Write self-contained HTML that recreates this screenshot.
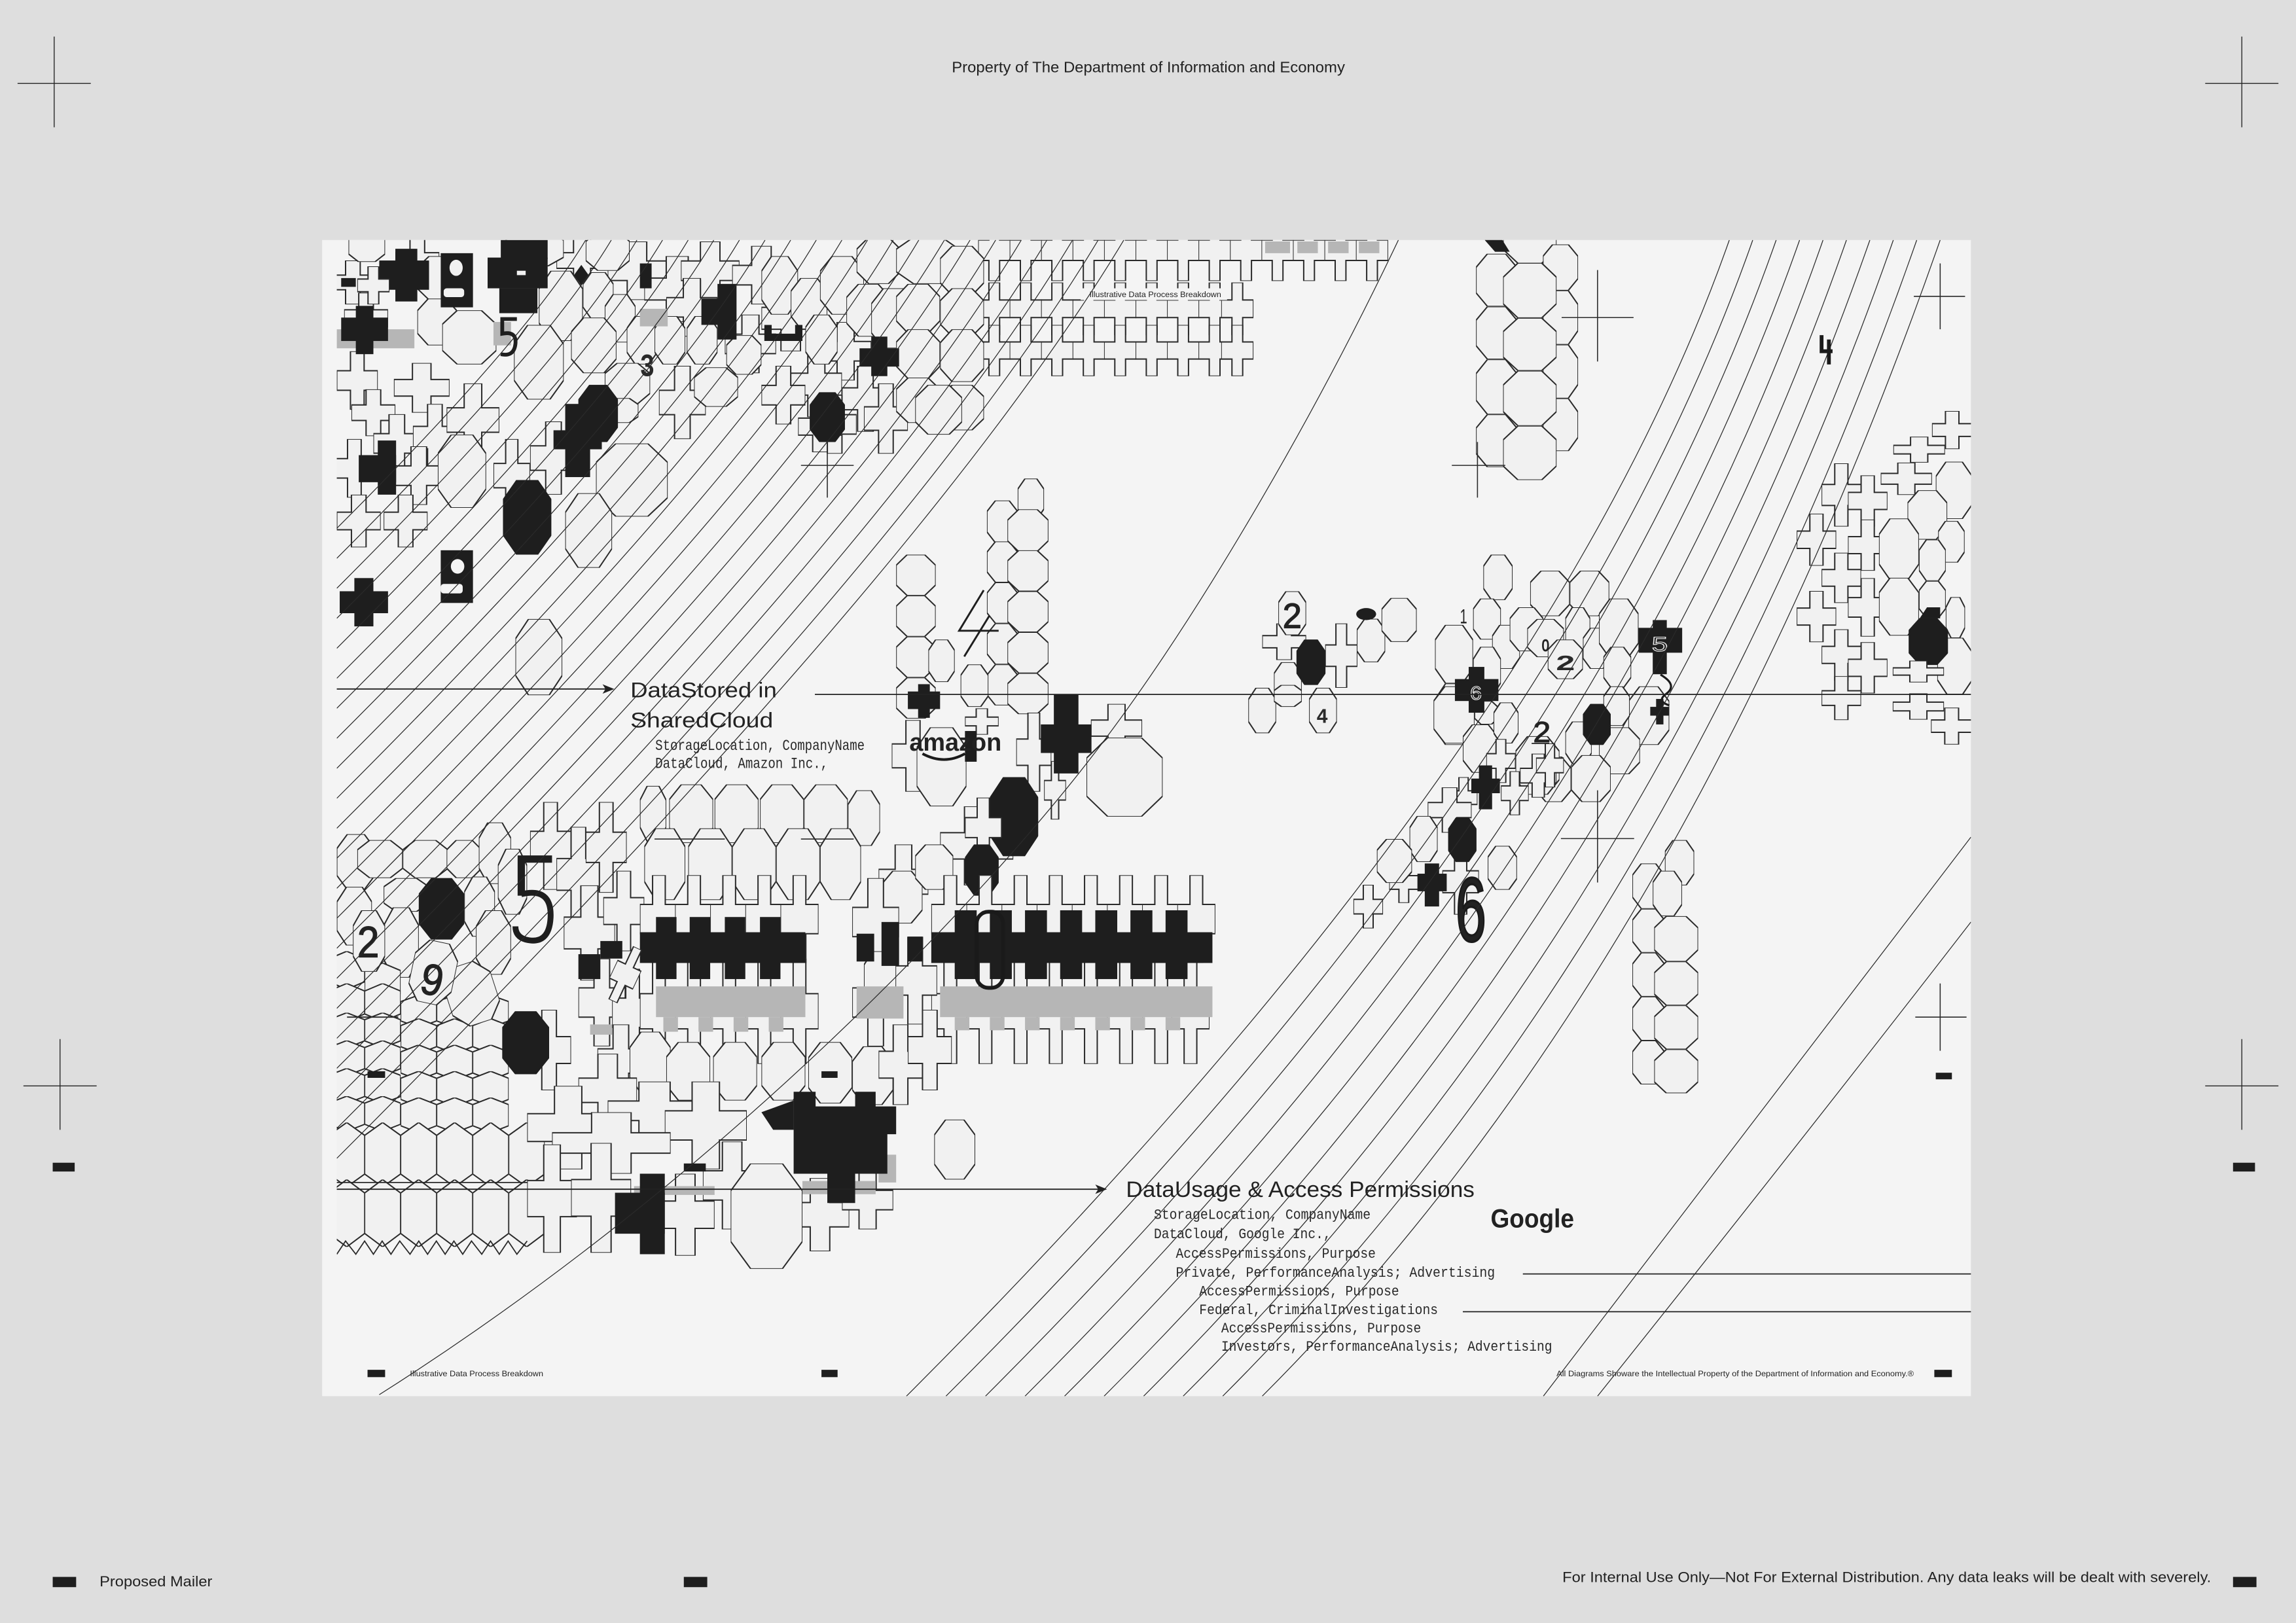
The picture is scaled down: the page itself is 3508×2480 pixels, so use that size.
<!DOCTYPE html>
<html><head><meta charset="utf-8"><title>Illustrative Data Process Breakdown</title>
<style>
html,body{margin:0;padding:0;background:#dedede;}
svg{display:block;}
use.w{fill:#f1f1f1;stroke:#2a2a2a;stroke-width:2;}
use.b{fill:#1e1e1e;stroke:#1e1e1e;stroke-width:1;}
.bk{fill:#1e1e1e;}
.gr{fill:#b6b6b6;}
.ln{fill:none;stroke:#2a2a2a;stroke-width:0.55;}
.t{font-family:"Liberation Sans",sans-serif;fill:#222;}
.m{font-family:"Liberation Mono",monospace;fill:#2a2a2a;}
</style></head>
<body>
<svg xmlns="http://www.w3.org/2000/svg" width="3508" height="2480" viewBox="0 0 1568 1109" preserveAspectRatio="none">
<defs>
<symbol id="o" viewBox="0 0 10 10" preserveAspectRatio="none"><polygon points="2.8,0 7.2,0 10,2.6 10,7.4 7.2,10 2.8,10 0,7.4 0,2.6" vector-effect="non-scaling-stroke"/></symbol>
<symbol id="c" viewBox="0 0 12 12" preserveAspectRatio="none"><polygon points="4,0 8,0 8,4 12,4 12,8 8,8 8,12 4,12 4,8 0,8 0,4 4,4" vector-effect="non-scaling-stroke"/></symbol>
<symbol id="h" viewBox="0 0 10 10" preserveAspectRatio="none"><polygon points="0,2 5,0 10,2 10,8 5,10 0,8" vector-effect="non-scaling-stroke"/></symbol>
<clipPath id="cp"><rect x="230" y="164" width="1116" height="790"/></clipPath>
</defs>

<rect x="0" y="0" width="1568" height="1109" fill="#dedede"/>
<rect x="220" y="164" width="1126" height="790" fill="#f4f4f4"/>

<g clip-path="url(#cp)">
<!-- ============ TOP BATTLEMENT PATTERN ============ -->
<use href="#c" class="w" x="668" y="150" width="22" height="42"/>
<use href="#c" class="w" x="689.5" y="150" width="22" height="42"/>
<use href="#c" class="w" x="711" y="150" width="22" height="42"/>
<use href="#c" class="w" x="732.5" y="150" width="22" height="42"/>
<use href="#c" class="w" x="754" y="150" width="22" height="42"/>
<use href="#c" class="w" x="775.5" y="150" width="22" height="42"/>
<use href="#c" class="w" x="797" y="150" width="22" height="42"/>
<use href="#c" class="w" x="818.5" y="150" width="22" height="42"/>
<use href="#c" class="w" x="840" y="150" width="22" height="42"/>
<use href="#c" class="w" x="861.5" y="150" width="22" height="42"/>
<use href="#c" class="w" x="883" y="150" width="22" height="42"/>
<use href="#c" class="w" x="904.5" y="150" width="22" height="42"/>
<use href="#c" class="w" x="926" y="150" width="22" height="42"/>
<rect class="gr" x="864" y="165" width="17" height="8"/>
<rect class="gr" x="886" y="165" width="14" height="8"/>
<rect class="gr" x="907" y="165" width="14" height="8"/>
<rect class="gr" x="928" y="165" width="14" height="8"/>
<use href="#c" class="w" x="668" y="193" width="22" height="36"/>
<use href="#c" class="w" x="689.5" y="193" width="22" height="36"/>
<use href="#c" class="w" x="711" y="193" width="22" height="36"/>
<use href="#c" class="w" x="732.5" y="193" width="22" height="36"/>
<use href="#c" class="w" x="754" y="193" width="22" height="36"/>
<use href="#c" class="w" x="775.5" y="193" width="22" height="36"/>
<use href="#c" class="w" x="797" y="193" width="22" height="36"/>
<use href="#c" class="w" x="818.5" y="193" width="22" height="36"/>
<use href="#c" class="w" x="834" y="193" width="22" height="36"/>
<use href="#c" class="w" x="668" y="222" width="22" height="35"/>
<use href="#c" class="w" x="689.5" y="222" width="22" height="35"/>
<use href="#c" class="w" x="711" y="222" width="22" height="35"/>
<use href="#c" class="w" x="732.5" y="222" width="22" height="35"/>
<use href="#c" class="w" x="754" y="222" width="22" height="35"/>
<use href="#c" class="w" x="775.5" y="222" width="22" height="35"/>
<use href="#c" class="w" x="797" y="222" width="22" height="35"/>
<use href="#c" class="w" x="818.5" y="222" width="22" height="35"/>
<use href="#c" class="w" x="834" y="222" width="22" height="35"/>
<rect x="738" y="197" width="100" height="8" fill="#f4f4f4"/>

<!-- ============ TOP-LEFT CLUSTER ============ -->
<use href="#c" class="w" x="226" y="178" width="30" height="30"/>
<use href="#c" class="w" x="235" y="200" width="30" height="35"/>
<use href="#c" class="w" x="230" y="240" width="28" height="40"/>
<use href="#c" class="w" x="240" y="266" width="30" height="32"/>
<use href="#c" class="w" x="269" y="248" width="38" height="34"/>
<use href="#c" class="w" x="255" y="283" width="32" height="40"/>
<use href="#c" class="w" x="282" y="276" width="30" height="46"/>
<use href="#c" class="w" x="305" y="262" width="36" height="50"/>
<use href="#c" class="w" x="228" y="300" width="28" height="40"/>
<use href="#c" class="w" x="270" y="305" width="32" height="40"/>
<use href="#c" class="w" x="230" y="338" width="30" height="36"/>
<use href="#c" class="w" x="262" y="338" width="30" height="36"/>
<use href="#c" class="w" x="337" y="300" width="25" height="50"/>
<use href="#c" class="w" x="362" y="288" width="32" height="50"/>
<use href="#c" class="w" x="270" y="162" width="30" height="32"/>
<use href="#c" class="w" x="380" y="162" width="35" height="32"/>
<use href="#c" class="w" x="415" y="165" width="40" height="40"/>
<use href="#c" class="w" x="440" y="175" width="45" height="45"/>
<use href="#c" class="w" x="465" y="165" width="40" height="40"/>
<use href="#c" class="w" x="500" y="168" width="40" height="40"/>
<use href="#c" class="w" x="455" y="190" width="35" height="40"/>
<use href="#c" class="w" x="520" y="195" width="40" height="45"/>
<use href="#c" class="w" x="495" y="215" width="35" height="40"/>
<use href="#c" class="w" x="560" y="220" width="35" height="40"/>
<use href="#c" class="w" x="540" y="240" width="35" height="45"/>
<use href="#c" class="w" x="575" y="250" width="32" height="45"/>
<use href="#c" class="w" x="590" y="262" width="30" height="48"/>
<use href="#c" class="w" x="555" y="270" width="30" height="40"/>
<use href="#c" class="w" x="545" y="274" width="30" height="35"/>
<use href="#c" class="w" x="450" y="250" width="32" height="50"/>
<use href="#c" class="w" x="520" y="250" width="30" height="40"/>

<use href="#o" class="w" x="238" y="158" width="25" height="21"/>
<use href="#o" class="w" x="345" y="158" width="40" height="24"/>
<use href="#o" class="w" x="400" y="158" width="30" height="27"/>
<use href="#o" class="w" x="285" y="175" width="29" height="30"/>
<use href="#o" class="w" x="285" y="204" width="27" height="32"/>
<use href="#o" class="w" x="302" y="212" width="37" height="37"/>
<use href="#o" class="w" x="368" y="185" width="30" height="48"/>
<use href="#o" class="w" x="351" y="222" width="34" height="51"/>
<use href="#o" class="w" x="398" y="186" width="21" height="32"/>
<use href="#o" class="w" x="413" y="201" width="21" height="33"/>
<use href="#o" class="w" x="390" y="217" width="31" height="38"/>
<use href="#o" class="w" x="428" y="216" width="21" height="33"/>
<use href="#o" class="w" x="447" y="216" width="21" height="33"/>
<use href="#o" class="w" x="469" y="216" width="21" height="33"/>
<use href="#o" class="w" x="520" y="175" width="25" height="40"/>
<use href="#o" class="w" x="540" y="190" width="25" height="35"/>
<use href="#o" class="w" x="496" y="229" width="24" height="27"/>
<use href="#o" class="w" x="413" y="248" width="31" height="28"/>
<use href="#o" class="w" x="413" y="272" width="23" height="17"/>
<use href="#o" class="w" x="474" y="251" width="30" height="27"/>
<use href="#o" class="w" x="299" y="297" width="33" height="50"/>
<use href="#o" class="w" x="407" y="303" width="49" height="50"/>
<use href="#o" class="w" x="386" y="337" width="32" height="51"/>
<use href="#o" class="w" x="352" y="423" width="32" height="52"/>
<use href="#o" class="w" x="560" y="175" width="30" height="40"/>
<use href="#o" class="w" x="585" y="162" width="30" height="32"/>
<use href="#o" class="w" x="550" y="215" width="22" height="34"/>
<use href="#o" class="w" x="578" y="194" width="30" height="36"/>
<use href="#o" class="w" x="595" y="197" width="30" height="41"/>
<use href="#o" class="w" x="612" y="162" width="43" height="32"/>
<use href="#o" class="w" x="642" y="168" width="30" height="34"/>
<use href="#o" class="w" x="612" y="194" width="30" height="34"/>
<use href="#o" class="w" x="642" y="197" width="30" height="33"/>
<use href="#o" class="w" x="612" y="225" width="30" height="34"/>
<use href="#o" class="w" x="642" y="225" width="30" height="36"/>
<use href="#o" class="w" x="612" y="258" width="30" height="31"/>
<use href="#o" class="w" x="642" y="263" width="30" height="31"/>
<use href="#o" class="w" x="625" y="263" width="32" height="34"/>

<!-- TL gray -->
<rect class="gr" x="230" y="225" width="53" height="13"/>
<rect class="gr" x="437" y="211" width="19" height="12"/>
<rect class="gr" x="337" y="220" width="12" height="16"/>
<!-- TL black -->
<rect class="bk" x="270" y="170" width="15" height="36"/>
<rect class="bk" x="259" y="178" width="34" height="20"/>
<rect class="bk" x="233" y="190" width="10" height="6"/>
<use href="#c" class="w" x="244" y="182" width="22" height="26"/>
<rect class="bk" x="243" y="209" width="12" height="33"/>
<rect class="bk" x="233" y="217" width="32" height="16"/>
<rect class="bk" x="301" y="173" width="22" height="37"/>
<ellipse cx="311.5" cy="183" rx="4.5" ry="5.5" fill="#f1f1f1"/>
<rect x="303" y="197" width="14" height="6" rx="2" fill="#f1f1f1"/>
<rect class="bk" x="342" y="164" width="32" height="13"/>
<rect class="bk" x="333" y="176" width="41" height="21"/>
<rect class="bk" x="341" y="197" width="26" height="17"/>
<rect x="353" y="185" width="6" height="3" fill="#f1f1f1"/>
<polygon class="bk" points="397,181 402,188 397,195 392,188"/>
<path d="M353,218 H343 V228 Q353,226 352,235 Q351,244 342,242" fill="none" stroke="#1e1e1e" stroke-width="2.6"/>
<use href="#o" class="b" x="395" y="263" width="27" height="39"/>
<rect class="bk" x="386" y="276" width="17" height="50"/>
<rect class="bk" x="378" y="294" width="33" height="13"/>
<use href="#o" class="b" x="343.5" y="328" width="33" height="51"/>
<rect class="bk" x="258" y="301" width="12.5" height="37"/>
<rect class="bk" x="245" y="311" width="25.5" height="18.5"/>
<use href="#o" class="b" x="553" y="268" width="24" height="34"/>
<rect class="bk" x="301" y="376" width="22" height="36"/>
<ellipse cx="312.5" cy="387" rx="4.6" ry="5" fill="#f4f4f4"/>
<rect x="301" y="399" width="15" height="6.5" rx="2" fill="#f4f4f4"/>
<rect class="bk" x="242" y="395" width="13" height="33"/>
<rect class="bk" x="232" y="404" width="33" height="15"/>
<rect class="bk" x="490" y="194" width="13" height="38"/>
<rect class="bk" x="479" y="204" width="21" height="18"/>
<rect class="bk" x="437" y="180" width="8" height="17"/>
<path class="bk" d="M522,222 h5 v6 h16 v-6 h5 v11 h-26z"/>
<rect class="bk" x="595" y="230" width="11" height="27"/>
<rect class="bk" x="587" y="238" width="27" height="12.5"/>
<polygon class="bk" points="1014,164 1026,164 1031,172 1021,172"/>
<text x="437" y="257" class="m" font-size="22" font-weight="bold" textLength="10" lengthAdjust="spacingAndGlyphs">3</text>

<!-- ============ MID COLUMN / AMAZON ============ -->
<use href="#o" class="w" x="695" y="327" width="18" height="28"/>
<use href="#o" class="w" x="674" y="342" width="21" height="29"/>
<use href="#o" class="w" x="674" y="370" width="21" height="28"/>
<use href="#o" class="w" x="674" y="398" width="21" height="28"/>
<use href="#o" class="w" x="674" y="426" width="21" height="28"/>
<use href="#o" class="w" x="674" y="454" width="21" height="28"/>
<use href="#o" class="w" x="688" y="348" width="28" height="29"/>
<use href="#o" class="w" x="688" y="376" width="28" height="28"/>
<use href="#o" class="w" x="688" y="404" width="28" height="28"/>
<use href="#o" class="w" x="688" y="432" width="28" height="28"/>
<use href="#o" class="w" x="688" y="460" width="28" height="28"/>
<use href="#o" class="w" x="612" y="379" width="27" height="28"/>
<use href="#o" class="w" x="612" y="407" width="27" height="28"/>
<use href="#o" class="w" x="612" y="435" width="27" height="28"/>
<use href="#o" class="w" x="612" y="463" width="27" height="28"/>
<use href="#o" class="w" x="634" y="437" width="18" height="29"/>
<use href="#o" class="w" x="656" y="454" width="19" height="29"/>
<path d="M671.8,403.3 L655,431 L682,431 M675.7,420.7 L658.5,448.6" fill="none" stroke="#1e1e1e" stroke-width="1.3"/>

<use href="#c" class="w" x="609" y="492" width="29" height="49"/>
<use href="#c" class="w" x="659" y="484" width="23" height="18"/>
<use href="#c" class="w" x="694" y="487" width="24" height="54"/>
<use href="#c" class="w" x="713" y="520" width="15" height="40"/>
<use href="#c" class="w" x="745" y="481" width="35" height="33"/>
<use href="#c" class="w" x="642" y="551" width="50" height="54"/>
<use href="#c" class="w" x="600" y="577" width="34" height="51"/>
<use href="#o" class="w" x="602" y="595" width="28" height="36"/>
<use href="#o" class="w" x="625" y="577" width="26" height="31"/>
<use href="#o" class="w" x="626" y="497" width="34" height="54"/>
<use href="#o" class="w" x="742" y="504" width="52" height="54"/>
<rect class="bk" x="627" y="467.5" width="8" height="23"/>
<rect class="bk" x="620" y="472.5" width="22" height="12"/>
<rect class="bk" x="719.7" y="474.5" width="16.8" height="54"/>
<rect class="bk" x="710.8" y="495" width="34.6" height="19.5"/>
<use href="#o" class="b" x="676" y="531" width="33" height="54"/>
<use href="#c" class="w" x="659" y="545" width="25" height="41"/>
<use href="#o" class="b" x="659" y="577" width="23" height="35"/>
<rect class="bk" x="659" y="499.5" width="8" height="21"/>
<text x="621" y="513" class="t" font-size="17" font-weight="bold" textLength="63" lengthAdjust="spacingAndGlyphs" fill="#1a1a1a">amazon</text>
<path d="M630,515 Q645,523 659,515" fill="none" stroke="#1a1a1a" stroke-width="1.8"/>

<!-- ============ LOWER-LEFT GRID ============ -->
<use href="#o" class="w" x="230" y="570" width="26" height="38"/>
<use href="#o" class="w" x="244" y="574" width="31" height="26"/>
<use href="#o" class="w" x="275" y="574" width="31" height="26"/>
<use href="#o" class="w" x="305" y="574" width="24" height="26"/>
<use href="#o" class="w" x="327" y="562" width="22" height="42"/>
<use href="#o" class="w" x="262" y="600" width="31" height="23"/>
<use href="#o" class="w" x="230" y="606" width="24" height="40"/>
<use href="#o" class="w" x="317" y="599" width="21" height="41"/>
<use href="#o" class="w" x="325" y="622" width="24" height="44"/>
<use href="#o" class="w" x="262" y="620" width="24" height="48"/>
<use href="#h" class="w" x="224.5" y="650" width="24.6" height="26"/>
<use href="#h" class="w" x="249" y="658" width="24.6" height="26"/>
<g>
<use href="#h" class="w" x="224.5" y="672" width="24.6" height="26"/>
<use href="#h" class="w" x="249" y="672" width="24.6" height="26"/>
<use href="#h" class="w" x="273.6" y="680" width="24.6" height="22"/>
<use href="#h" class="w" x="298.2" y="680" width="24.6" height="22"/>
<use href="#h" class="w" x="322.8" y="680" width="24.6" height="22"/>
<use href="#h" class="w" x="224.5" y="692" width="24.6" height="24"/>
<use href="#h" class="w" x="249" y="692" width="24.6" height="24"/>
<use href="#h" class="w" x="273.6" y="696" width="24.6" height="24"/>
<use href="#h" class="w" x="298.2" y="696" width="24.6" height="24"/>
<use href="#h" class="w" x="322.8" y="696" width="24.6" height="24"/>
<use href="#h" class="w" x="224.5" y="711" width="24.6" height="24"/>
<use href="#h" class="w" x="249" y="711" width="24.6" height="24"/>
<use href="#h" class="w" x="273.6" y="714" width="24.6" height="24"/>
<use href="#h" class="w" x="298.2" y="714" width="24.6" height="24"/>
<use href="#h" class="w" x="322.8" y="714" width="24.6" height="24"/>
<use href="#h" class="w" x="224.5" y="730" width="24.6" height="24"/>
<use href="#h" class="w" x="249" y="730" width="24.6" height="24"/>
<use href="#h" class="w" x="273.6" y="732" width="24.6" height="24"/>
<use href="#h" class="w" x="298.2" y="732" width="24.6" height="24"/>
<use href="#h" class="w" x="322.8" y="732" width="24.6" height="24"/>
<use href="#h" class="w" x="224.5" y="749" width="24.6" height="24"/>
<use href="#h" class="w" x="249" y="749" width="24.6" height="24"/>
<use href="#h" class="w" x="273.6" y="750" width="24.6" height="24"/>
<use href="#h" class="w" x="298.2" y="750" width="24.6" height="24"/>
<use href="#h" class="w" x="322.8" y="750" width="24.6" height="24"/>
<use href="#h" class="w" x="224.5" y="767" width="24.6" height="44"/>
<use href="#h" class="w" x="249" y="767" width="24.6" height="44"/>
<use href="#h" class="w" x="273.6" y="767" width="24.6" height="44"/>
<use href="#h" class="w" x="298.2" y="767" width="24.6" height="44"/>
<use href="#h" class="w" x="322.8" y="767" width="24.6" height="44"/>
<use href="#h" class="w" x="347.4" y="767" width="24.6" height="44"/>
<use href="#h" class="w" x="224.5" y="806" width="24.6" height="46"/>
<use href="#h" class="w" x="249" y="806" width="24.6" height="46"/>
<use href="#h" class="w" x="273.6" y="806" width="24.6" height="46"/>
<use href="#h" class="w" x="298.2" y="806" width="24.6" height="46"/>
<use href="#h" class="w" x="322.8" y="806" width="24.6" height="46"/>
<use href="#h" class="w" x="347.4" y="806" width="24.6" height="46"/>
</g>
<path d="M230,857 L236,848 L243,857 L249,848 L255,857 L261,848 L267,857 L273,848 L280,857 L286,848 L292,857 L298,848 L304,857 L310,848 L316,857 L322,848 L329,857 L335,848 L341,857 L347,848 L353,857 L360,848" fill="none" stroke="#2a2a2a" stroke-width="0.8"/>
<line x1="230" y1="808" x2="362" y2="808" stroke="#2a2a2a" stroke-width="0.8"/>
<line x1="237" y1="695" x2="272" y2="695" stroke="#2a2a2a" stroke-width="0.8"/>

<use href="#o" class="b" x="286" y="600" width="31" height="42"/>
<use href="#o" class="w" x="241" y="622" width="22" height="42"/>
<text x="244" y="654" class="t" font-size="30" textLength="15" lengthAdjust="spacingAndGlyphs" fill="none" stroke="#222" stroke-width="0.6">2</text>
<use href="#o" class="w" x="305" y="658" width="34" height="42" transform="rotate(-18 322 679)"/>
<use href="#o" class="w" x="281" y="643" width="30" height="43" transform="rotate(12 296 664)"/>
<text x="288" y="680" class="t" font-size="30" textLength="15" lengthAdjust="spacingAndGlyphs" fill="none" stroke="#222" stroke-width="0.6" transform="rotate(12 296 668)">9</text>
<rect class="bk" x="251" y="732" width="12" height="4.5"/>

<!-- ============ LOWER-MIDDLE ============ -->
<use href="#o" class="w" x="437" y="537" width="18" height="38"/>
<use href="#o" class="w" x="457" y="536" width="30" height="40"/>
<use href="#o" class="w" x="488" y="536" width="30" height="40"/>
<use href="#o" class="w" x="519" y="536" width="30" height="40"/>
<use href="#o" class="w" x="549" y="536" width="30" height="40"/>
<use href="#o" class="w" x="579" y="540" width="22" height="38"/>
<use href="#o" class="w" x="440" y="566" width="28" height="49"/>
<use href="#o" class="w" x="470" y="566" width="30" height="49"/>
<use href="#o" class="w" x="500" y="566" width="30" height="49"/>
<use href="#o" class="w" x="530" y="566" width="30" height="49"/>
<use href="#o" class="w" x="560" y="566" width="28" height="49"/>
<line x1="447" y1="573.3" x2="495" y2="573.3" stroke="#2a2a2a" stroke-width="0.7"/>
<line x1="547" y1="573.3" x2="583" y2="573.3" stroke="#2a2a2a" stroke-width="0.7"/>

<use href="#c" class="w" x="362" y="548" width="28" height="60"/>
<use href="#c" class="w" x="380" y="565" width="30" height="65"/>
<use href="#c" class="w" x="400" y="548" width="28" height="62"/>
<use href="#o" class="w" x="340" y="580" width="20" height="45"/>
<use href="#c" class="w" x="385" y="605" width="35" height="65"/>
<use href="#c" class="w" x="412" y="595" width="28" height="55"/>
<use href="#c" class="w" x="395" y="655" width="32" height="60"/>
<use href="#c" class="w" x="418" y="662" width="28" height="60"/>
<use href="#c" class="w" x="360" y="690" width="30" height="55"/>
<use href="#c" class="w" x="408" y="700" width="32" height="50"/>
<use href="#o" class="b" x="343" y="691" width="32" height="43"/>

<!-- crosses around bars -->
<use href="#c" class="w" x="437" y="598" width="26" height="60"/>
<use href="#c" class="w" x="461" y="598" width="26" height="60"/>
<use href="#c" class="w" x="485" y="598" width="26" height="60"/>
<use href="#c" class="w" x="509" y="598" width="26" height="60"/>
<use href="#c" class="w" x="533" y="598" width="26" height="60"/>
<use href="#c" class="w" x="437" y="655" width="26" height="72"/>
<use href="#c" class="w" x="461" y="655" width="26" height="72"/>
<use href="#c" class="w" x="485" y="655" width="26" height="72"/>
<use href="#c" class="w" x="509" y="655" width="26" height="72"/>
<use href="#c" class="w" x="533" y="655" width="26" height="72"/>
<use href="#c" class="w" x="636" y="598" width="26" height="60"/>
<use href="#c" class="w" x="660" y="598" width="26" height="60"/>
<use href="#c" class="w" x="684" y="598" width="26" height="60"/>
<use href="#c" class="w" x="708" y="598" width="26" height="60"/>
<use href="#c" class="w" x="732" y="598" width="26" height="60"/>
<use href="#c" class="w" x="756" y="598" width="26" height="60"/>
<use href="#c" class="w" x="780" y="598" width="26" height="60"/>
<use href="#c" class="w" x="804" y="598" width="26" height="60"/>
<use href="#c" class="w" x="636" y="655" width="26" height="72"/>
<use href="#c" class="w" x="660" y="655" width="26" height="72"/>
<use href="#c" class="w" x="684" y="655" width="26" height="72"/>
<use href="#c" class="w" x="708" y="655" width="26" height="72"/>
<use href="#c" class="w" x="732" y="655" width="26" height="72"/>
<use href="#c" class="w" x="756" y="655" width="26" height="72"/>
<use href="#c" class="w" x="780" y="655" width="26" height="72"/>
<use href="#c" class="w" x="800" y="655" width="26" height="72"/>
<use href="#c" class="w" x="582" y="600" width="32" height="60"/>
<use href="#c" class="w" x="582" y="655" width="32" height="60"/>
<use href="#c" class="w" x="610" y="640" width="30" height="60"/>
<use href="#o" class="w" x="590" y="650" width="22" height="36"/>

<!-- gray bands -->
<rect class="gr" x="448" y="674" width="102" height="21"/>
<rect class="gr" x="453" y="695" width="10" height="10"/>
<rect class="gr" x="477" y="695" width="10" height="10"/>
<rect class="gr" x="501" y="695" width="10" height="10"/>
<rect class="gr" x="525" y="695" width="10" height="10"/>
<rect class="gr" x="403" y="700" width="15" height="7"/>
<rect class="gr" x="642" y="674" width="186" height="21"/>
<rect class="gr" x="652" y="695" width="10" height="9"/>
<rect class="gr" x="676" y="695" width="10" height="9"/>
<rect class="gr" x="700" y="695" width="10" height="9"/>
<rect class="gr" x="724" y="695" width="10" height="9"/>
<rect class="gr" x="748" y="695" width="10" height="9"/>
<rect class="gr" x="772" y="695" width="10" height="9"/>
<rect class="gr" x="796" y="695" width="10" height="9"/>
<rect class="gr" x="585" y="674" width="32" height="22"/>

<!-- black bars -->
<rect class="bk" x="437" y="637" width="113" height="21"/>
<rect class="bk" x="448" y="626.6" width="14" height="42.4"/>
<rect class="bk" x="471" y="626.6" width="14" height="42.4"/>
<rect class="bk" x="495" y="626.6" width="14" height="42.4"/>
<rect class="bk" x="519" y="626.6" width="14" height="42.4"/>
<rect class="bk" x="395" y="652" width="15" height="17"/>
<rect class="bk" x="410" y="643" width="15" height="12"/>
<rect class="bk" x="636" y="637" width="192" height="21"/>
<rect class="bk" x="652" y="622" width="15" height="47"/>
<rect class="bk" x="676" y="622" width="15" height="47"/>
<rect class="bk" x="700" y="622" width="15" height="47"/>
<rect class="bk" x="724" y="622" width="15" height="47"/>
<rect class="bk" x="748" y="622" width="15" height="47"/>
<rect class="bk" x="772" y="622" width="15" height="47"/>
<rect class="bk" x="796" y="622" width="15" height="47"/>
<rect class="bk" x="585" y="638" width="12" height="19"/>
<rect class="bk" x="602" y="630" width="12" height="30"/>
<rect class="bk" x="620" y="640" width="10" height="17"/>
<rect x="667" y="623" width="18" height="52" rx="8" fill="none" stroke="#1a1a1a" stroke-width="2.6"/>
<use href="#c" class="w" x="418" y="646" width="18" height="40" transform="rotate(25 427 666)"/>

<!-- mid rows of tall octagons -->
<use href="#o" class="w" x="430" y="705" width="28" height="42"/>
<use href="#o" class="w" x="455" y="712" width="30" height="40"/>
<use href="#o" class="w" x="487" y="712" width="30" height="40"/>
<use href="#o" class="w" x="520" y="712" width="30" height="40"/>
<use href="#o" class="w" x="552" y="712" width="30" height="42"/>
<use href="#o" class="w" x="582" y="715" width="28" height="40"/>
<use href="#c" class="w" x="600" y="700" width="30" height="55"/>
<use href="#c" class="w" x="620" y="690" width="30" height="55"/>

<!-- bottom crosses -->
<use href="#c" class="w" x="395" y="720" width="40" height="50"/>
<use href="#c" class="w" x="360" y="742" width="56" height="57"/>
<use href="#c" class="w" x="415" y="739" width="64" height="40"/>
<use href="#c" class="w" x="454" y="739" width="56" height="60"/>
<use href="#c" class="w" x="377" y="760" width="81" height="42"/>
<use href="#c" class="w" x="360" y="782" width="34" height="74"/>
<use href="#c" class="w" x="390" y="781" width="41" height="75"/>
<use href="#c" class="w" x="480" y="780" width="40" height="60"/>
<use href="#c" class="w" x="448" y="802" width="40" height="56"/>
<use href="#c" class="w" x="540" y="805" width="40" height="50"/>
<use href="#c" class="w" x="575" y="800" width="35" height="40"/>
<rect class="gr" x="433" y="810.5" width="55" height="6"/>
<rect class="bk" x="437" y="802" width="17" height="55"/>
<rect class="bk" x="420" y="815" width="34" height="28"/>
<use href="#o" class="w" x="499" y="795" width="49" height="72"/>
<rect class="gr" x="600" y="789" width="12" height="19"/>
<rect class="gr" x="548" y="807" width="50" height="9"/>
<polygon class="bk" points="520,760 542,752 542,772 528,772"/>
<path class="bk" d="M542,756 V746 H557 V756 H584 V746 H598 V756 H612 V775 H606 V802 H584 V822 H565 V802 H542 Z"/>
<use href="#o" class="w" x="638" y="765" width="28" height="41"/>
<rect class="bk" x="467" y="795" width="15" height="5.5"/>
<rect class="bk" x="561" y="732" width="11" height="4.5"/>

<!-- "5" glyph -->
<path d="M377,587 H356 V612" fill="none" stroke="#1e1e1e" stroke-width="5"/>
<path d="M356,611 Q377,606 376,627 Q375,646 359,642 Q352,640 352,633" fill="none" stroke="#1e1e1e" stroke-width="4"/>

<!-- ============ RIGHT-MIDDLE CLUSTER ============ -->
<use href="#o" class="w" x="1013" y="379" width="20" height="31"/>
<use href="#o" class="w" x="1045" y="390" width="27" height="31"/>
<use href="#o" class="w" x="1072" y="390" width="27" height="31"/>
<use href="#o" class="w" x="980" y="427" width="26" height="40"/>
<use href="#o" class="w" x="980" y="467" width="26" height="42"/>
<use href="#o" class="w" x="1006" y="409" width="19" height="28"/>
<use href="#o" class="w" x="1019" y="427" width="19" height="30"/>
<use href="#o" class="w" x="1006" y="442" width="19" height="33"/>
<use href="#o" class="w" x="1031" y="415" width="23" height="30"/>
<use href="#o" class="w" x="1069" y="415" width="17" height="30"/>
<use href="#o" class="w" x="1081" y="429" width="19" height="28"/>
<use href="#o" class="w" x="1092" y="409" width="27" height="41"/>
<use href="#o" class="w" x="1095" y="442" width="19" height="28"/>
<use href="#o" class="w" x="1112" y="469" width="28" height="40"/>
<use href="#o" class="w" x="1095" y="469" width="18" height="27"/>
<use href="#o" class="w" x="1092" y="497" width="28" height="32"/>
<use href="#o" class="w" x="1069" y="493" width="18" height="29"/>
<use href="#o" class="w" x="1073" y="516" width="27" height="32"/>
<use href="#o" class="w" x="1049" y="517" width="24" height="31"/>
<use href="#o" class="w" x="979" y="469" width="28" height="39"/>
<use href="#o" class="w" x="999" y="495" width="24" height="33"/>
<use href="#o" class="w" x="1007" y="479" width="16" height="16"/>
<use href="#o" class="w" x="1020" y="480" width="17" height="28"/>
<use href="#o" class="w" x="1043" y="423" width="25" height="26"/>
<use href="#o" class="w" x="1057" y="437" width="24" height="27"/>
<use href="#o" class="w" x="1035" y="503" width="30" height="40"/>
<use href="#c" class="w" x="1038" y="515" width="25" height="30"/>
<use href="#c" class="w" x="1049" y="508" width="19" height="30"/>
<use href="#c" class="w" x="1025" y="527" width="19" height="30"/>
<use href="#c" class="w" x="990" y="531" width="19" height="28"/>
<use href="#c" class="w" x="975" y="538" width="30" height="31"/>
<use href="#c" class="w" x="1015" y="505" width="20" height="30"/>
<text x="1053" y="445" class="t" font-size="11" textLength="5" lengthAdjust="spacingAndGlyphs" fill="none" stroke="#222" stroke-width="0.5">0</text>
<text x="1062" y="458" class="m" font-size="15" font-weight="bold" textLength="14" lengthAdjust="spacingAndGlyphs" fill="#1a1a1a">2</text>
<text x="997" y="426" class="t" font-size="14" textLength="5" lengthAdjust="spacingAndGlyphs">1</text>
<use href="#o" class="b" x="1081" y="481" width="19" height="28"/>
<rect class="bk" x="1003" y="455.7" width="10.7" height="31.3"/>
<rect class="bk" x="993.6" y="464" width="29.7" height="15"/>
<text x="1004" y="478" class="t" font-size="13" textLength="8" lengthAdjust="spacingAndGlyphs" fill="none" stroke="#eee" stroke-width="0.5">6</text>
<rect class="bk" x="1128.7" y="423.7" width="9.6" height="37"/>
<rect class="bk" x="1119" y="429" width="29.8" height="17"/>
<text x="1128" y="445" class="t" font-size="14" textLength="11" lengthAdjust="spacingAndGlyphs" fill="none" stroke="#eee" stroke-width="0.5">5</text>
<path d="M1134,461 Q1146,468 1138,474 Q1131,479 1140,482" fill="none" stroke="#1a1a1a" stroke-width="1.4"/>
<rect class="bk" x="1131" y="477.6" width="5" height="17.4"/>
<rect class="bk" x="1127" y="483" width="13" height="6"/>
<text x="1047" y="507" class="t" font-size="20" textLength="12" lengthAdjust="spacingAndGlyphs" fill="none" stroke="#222" stroke-width="0.5">2</text>
<line x1="1046" y1="508" x2="1058" y2="508" stroke="#222" stroke-width="0.8"/>

<!-- left group -->
<use href="#c" class="w" x="862" y="426" width="30" height="25"/>
<use href="#c" class="w" x="905" y="426" width="22" height="44"/>
<use href="#o" class="w" x="873" y="404" width="19" height="30"/>
<use href="#o" class="w" x="870" y="452.5" width="19" height="30"/>
<use href="#o" class="w" x="852.5" y="470" width="19" height="31"/>
<use href="#o" class="w" x="870" y="468" width="19" height="15"/>
<use href="#o" class="w" x="894" y="470" width="19" height="31"/>
<use href="#o" class="w" x="926.6" y="422.8" width="19.4" height="29.7"/>
<use href="#o" class="w" x="943.5" y="408.6" width="24" height="30"/>
<use href="#o" class="b" x="885.4" y="437" width="19.8" height="31"/>
<ellipse cx="933" cy="419.6" rx="6.8" ry="4.1" fill="#1e1e1e"/>
<text x="876" y="429" class="t" font-size="24" textLength="13" lengthAdjust="spacingAndGlyphs" fill="none" stroke="#222" stroke-width="0.6">2</text>
<text x="899" y="494" class="m" font-size="14" font-weight="bold" textLength="8" lengthAdjust="spacingAndGlyphs" fill="#1a1a1a">4</text>

<!-- lower chain -->
<use href="#c" class="w" x="948.7" y="589" width="20" height="28"/>
<use href="#c" class="w" x="924.3" y="604.6" width="20.2" height="29.8"/>
<use href="#o" class="w" x="962.6" y="557.6" width="19.2" height="31.4"/>
<use href="#o" class="w" x="940.3" y="573.3" width="24" height="30"/>
<use href="#o" class="w" x="1016" y="578" width="20" height="30"/>
<use href="#c" class="w" x="985" y="580" width="25" height="45"/>
<rect class="bk" x="1010" y="523" width="9" height="30"/>
<rect class="bk" x="1004.8" y="532" width="19.5" height="10"/>
<use href="#o" class="b" x="989" y="558.6" width="19.3" height="30.4"/>
<rect class="bk" x="973" y="590" width="9.8" height="29.4"/>
<rect class="bk" x="968" y="597" width="20" height="12"/>
<text x="994" y="643" class="t" font-size="62" textLength="21" lengthAdjust="spacingAndGlyphs" fill="#f1f1f1" stroke="#1a1a1a" stroke-width="1.6">6</text>

<!-- lower-right column -->
<use href="#o" class="w" x="1137" y="574" width="20" height="31"/>
<use href="#o" class="w" x="1114.8" y="590" width="22" height="31"/>
<use href="#o" class="w" x="1128.7" y="595" width="20" height="31"/>
<use href="#o" class="w" x="1114.8" y="621" width="22" height="30"/>
<use href="#o" class="w" x="1129.7" y="626" width="30" height="31"/>
<use href="#o" class="w" x="1114.8" y="651" width="22" height="30"/>
<use href="#o" class="w" x="1129.7" y="657" width="30" height="30"/>
<use href="#o" class="w" x="1114.8" y="681" width="22" height="30"/>
<use href="#o" class="w" x="1129.7" y="687" width="30" height="30"/>
<use href="#o" class="w" x="1114.8" y="711" width="22" height="30"/>
<use href="#o" class="w" x="1129.7" y="717" width="30" height="30"/>

<!-- honeycomb top -->
<use href="#o" class="w" x="1026.5" y="143" width="36.5" height="37"/>
<use href="#o" class="w" x="1008" y="173.4" width="28" height="36"/>
<use href="#o" class="w" x="1008" y="209.5" width="28" height="36"/>
<use href="#o" class="w" x="1008" y="245.6" width="28" height="37.6"/>
<use href="#o" class="w" x="1008" y="283.2" width="28" height="36"/>
<use href="#o" class="w" x="1053.7" y="167" width="24" height="31.5"/>
<use href="#o" class="w" x="1053.7" y="198.5" width="24" height="37"/>
<use href="#o" class="w" x="1053.7" y="235.5" width="24" height="36.7"/>
<use href="#o" class="w" x="1053.7" y="272.2" width="24" height="36"/>
<use href="#o" class="w" x="1026.5" y="179.7" width="36.5" height="37.6"/>
<use href="#o" class="w" x="1026.5" y="217.3" width="36.5" height="36"/>
<use href="#o" class="w" x="1026.5" y="253.4" width="36.5" height="37.6"/>
<use href="#o" class="w" x="1026.5" y="291" width="36.5" height="37"/>
<polygon class="bk" points="1014,164 1026,164 1031,172 1021,172"/>

<!-- right cluster -->
<use href="#c" class="w" x="1244" y="316.6" width="27" height="43.2"/>
<use href="#c" class="w" x="1262" y="324.8" width="27" height="35"/>
<use href="#c" class="w" x="1227" y="351" width="27" height="35.6"/>
<use href="#c" class="w" x="1262" y="355" width="27" height="35"/>
<use href="#c" class="w" x="1244" y="377.7" width="27" height="34.3"/>
<use href="#c" class="w" x="1262" y="395" width="27" height="40"/>
<use href="#c" class="w" x="1227" y="403.8" width="27" height="35"/>
<use href="#c" class="w" x="1244" y="430" width="27" height="35"/>
<use href="#c" class="w" x="1262" y="438.8" width="27" height="35"/>
<use href="#c" class="w" x="1244" y="462" width="27" height="30"/>
<use href="#c" class="w" x="1319.4" y="280.8" width="27.6" height="26.1"/>
<use href="#c" class="w" x="1293" y="298.4" width="35.3" height="17.7"/>
<use href="#c" class="w" x="1284.4" y="316.1" width="35" height="22.1"/>
<use href="#o" class="w" x="1322" y="315.5" width="25" height="39.1"/>
<use href="#o" class="w" x="1302.7" y="335" width="27.1" height="33.7"/>
<use href="#o" class="w" x="1283.2" y="354.3" width="27.3" height="42"/>
<use href="#o" class="w" x="1283.2" y="394.8" width="27.3" height="39.5"/>
<use href="#o" class="w" x="1323.6" y="356" width="18.1" height="28.4"/>
<use href="#o" class="w" x="1310.5" y="368.7" width="18.3" height="28.3"/>
<use href="#o" class="w" x="1310.5" y="397" width="18.3" height="25.4"/>
<use href="#o" class="w" x="1328.8" y="408" width="13.2" height="28"/>
<use href="#o" class="w" x="1323" y="435.8" width="24" height="38.7"/>
<use href="#o" class="b" x="1303.5" y="422.4" width="26.8" height="32"/>
<polygon class="bk" points="1311,422.5 1325,422.5 1325,415 1316,415"/>
<use href="#c" class="w" x="1292.6" y="451.4" width="35" height="14.9"/>
<use href="#c" class="w" x="1292.6" y="473.8" width="35" height="17.9"/>
<use href="#c" class="w" x="1318.7" y="483.5" width="28.3" height="25.3"/>

<!-- ============ THIN LINES ============ -->
<path class="ln" d="M230,443 Q411.5,261.5 470,164 M230,463.5 Q424.5,269 487.5,164 M230,484 Q437.5,276.5 505,164 M230,504.5 Q450.5,284 522.5,164 M230,525 Q463.5,291.5 540,164 M230,545.5 Q476.5,299 557.5,164 M230,566 Q489.5,306.5 575,164 M230,586.5 Q502.5,314 592.5,164 M230,607 Q515.5,321.5 610,164 M230,627.5 Q528.5,329 627.5,164 M230,648 Q541.5,336.5 645,164 M230,668.5 Q554.5,344 662.5,164 M230,689 Q567.5,351.5 680,164 M230,709.5 Q580.5,359 697.5,164 M230,730 Q593.5,366.5 715,164 M230,750.5 Q606.5,374 732.5,164 M230,771 Q619.5,381.5 750,164 M230,791.5 Q632.5,389 767.5,164"/>
<path class="ln" d="M230,361 Q359.5,231.5 400,164 M230,381.5 Q372.5,239 417.5,164 M230,402 Q385.5,246.5 435,164 M230,422.5 Q398.5,254 452.5,164"/>
<path class="ln" d="M619,954 Q1058,515 1181,164 M646,954 Q1068,532 1197,164 M673,954 Q1078,549 1213,164 M700,954 Q1088,566 1229,164 M727,954 Q1099,583 1245,164 M754,954 Q1109,599 1261,164 M781,954 Q1119,616 1277,164 M808,954 Q1129,633 1293,164 M835,954 Q1139,650 1309,164 M862,954 Q1149,667 1325,164"/>
<path class="ln" d="M1054,954 Q1195,770 1346,572 M1091,954 Q1230,780 1346,630"/>
<path class="ln" d="M955,164 C900,280 820,420 748,514 S500,800 259,953"/>

<!-- crosshair marks in panel -->
<path d="M565,301 V340 M547,318 H583 M1091,184.5 V247 M1066.5,217 H1115.6 M1009,302 V340 M991.5,318 H1028 M1091,540 V603 M1066,573 H1116 M1325,180 V225 M1307,202.5 H1342 M1325,672 V718 M1308,695 H1343" stroke="#2a2a2a" stroke-width="0.7" fill="none"/>
<path d="M1244,229 V240 H1251.5 M1249,232 V249" stroke="#1a1a1a" stroke-width="2.6" fill="none"/>
</g>

<!-- ============ CONNECTORS ============ -->
<line x1="230" y1="470.8" x2="414" y2="470.8" stroke="#222" stroke-width="0.8"/>
<polygon points="419.5,470.8 411.5,467.6 413.5,470.8 411.5,474" fill="#222"/>
<line x1="556.5" y1="474.5" x2="1346" y2="474.5" stroke="#222" stroke-width="0.75"/>
<line x1="230" y1="812.6" x2="750" y2="812.6" stroke="#222" stroke-width="0.8"/>
<polygon points="756,812.6 748,809.4 750,812.6 748,815.8" fill="#222"/>
<line x1="1040" y1="870.5" x2="1346" y2="870.5" stroke="#222" stroke-width="0.8"/>
<line x1="999" y1="896.3" x2="1346" y2="896.3" stroke="#222" stroke-width="0.8"/>

<!-- ============ LABELS ============ -->
<text x="430.5" y="476.5" class="t" font-size="14.5" textLength="100" lengthAdjust="spacingAndGlyphs">DataStored in</text>
<text x="430.5" y="497" class="t" font-size="14.5" textLength="97.5" lengthAdjust="spacingAndGlyphs">SharedCloud</text>
<text x="447.5" y="512.5" class="m" font-size="10.5" textLength="143" lengthAdjust="spacingAndGlyphs">StorageLocation, CompanyName</text>
<text x="447.5" y="524.7" class="m" font-size="10.5" textLength="118" lengthAdjust="spacingAndGlyphs">DataCloud, Amazon Inc.,</text>

<text x="769" y="818" class="t" font-size="15.5" textLength="238" lengthAdjust="spacingAndGlyphs">DataUsage &amp; Access Permissions</text>
<text x="1018" y="838.6" class="t" font-size="18" font-weight="bold" textLength="57" lengthAdjust="spacingAndGlyphs" fill="#111">Google</text>
<text x="788" y="832.8" class="m" font-size="10" textLength="148" lengthAdjust="spacingAndGlyphs">StorageLocation, CompanyName</text>
<text x="788" y="846" class="m" font-size="10" textLength="121" lengthAdjust="spacingAndGlyphs">DataCloud, Google Inc.,</text>
<text x="803" y="859.4" class="m" font-size="10" textLength="136.5" lengthAdjust="spacingAndGlyphs">AccessPermissions, Purpose</text>
<text x="803" y="872.4" class="m" font-size="10" textLength="218" lengthAdjust="spacingAndGlyphs">Private, PerformanceAnalysis; Advertising</text>
<text x="819" y="885.3" class="m" font-size="10" textLength="136.5" lengthAdjust="spacingAndGlyphs">AccessPermissions, Purpose</text>
<text x="819" y="898" class="m" font-size="10" textLength="163" lengthAdjust="spacingAndGlyphs">Federal, CriminalInvestigations</text>
<text x="834" y="910.4" class="m" font-size="10" textLength="136.5" lengthAdjust="spacingAndGlyphs">AccessPermissions, Purpose</text>
<text x="834" y="923" class="m" font-size="10" textLength="226" lengthAdjust="spacingAndGlyphs">Investors, PerformanceAnalysis; Advertising</text>

<text x="744" y="203" class="t" font-size="5.5" textLength="90" lengthAdjust="spacingAndGlyphs">Illustrative Data Process Breakdown</text>
<text x="280" y="940.5" class="t" font-size="5.5" textLength="91" lengthAdjust="spacingAndGlyphs">Illustrative Data Process Breakdown</text>
<text x="1063" y="940.5" class="t" font-size="5.5" textLength="244" lengthAdjust="spacingAndGlyphs">All Diagrams Showare the Intellectual Property of the Department of Information and Economy.®</text>
<rect class="bk" x="251" y="936" width="12" height="5"/>
<rect class="bk" x="561" y="936" width="11" height="5"/>
<rect class="bk" x="1321" y="936" width="12" height="5"/>
<rect class="bk" x="1322" y="733" width="11" height="4.5"/>

<!-- ============ PAGE FRAME ============ -->
<text x="650" y="49.5" class="t" font-size="10.5" textLength="268.5" lengthAdjust="spacingAndGlyphs">Property of The Department of Information and Economy</text>
<text x="68" y="1084" class="t" font-size="10" textLength="77" lengthAdjust="spacingAndGlyphs">Proposed Mailer</text>
<text x="1067" y="1081" class="t" font-size="10" textLength="443" lengthAdjust="spacingAndGlyphs">For Internal Use Only—Not For External Distribution. Any data leaks will be dealt with severely.</text>
<path d="M12,57 H62 M37,25 V87 M1506,57 H1556 M1531,25 V87 M16,742 H66 M41,710 V772 M1506,742 H1556 M1531,710 V772" stroke="#222" stroke-width="0.6" fill="none"/>
<rect class="bk" x="36" y="794.5" width="15" height="6"/>
<rect class="bk" x="1525" y="794.5" width="15" height="6"/>
<rect class="bk" x="36" y="1077.5" width="16" height="7"/>
<rect class="bk" x="467" y="1077.5" width="16" height="7"/>
<rect class="bk" x="1525" y="1077.5" width="16" height="7"/>
</svg>
</body></html>
